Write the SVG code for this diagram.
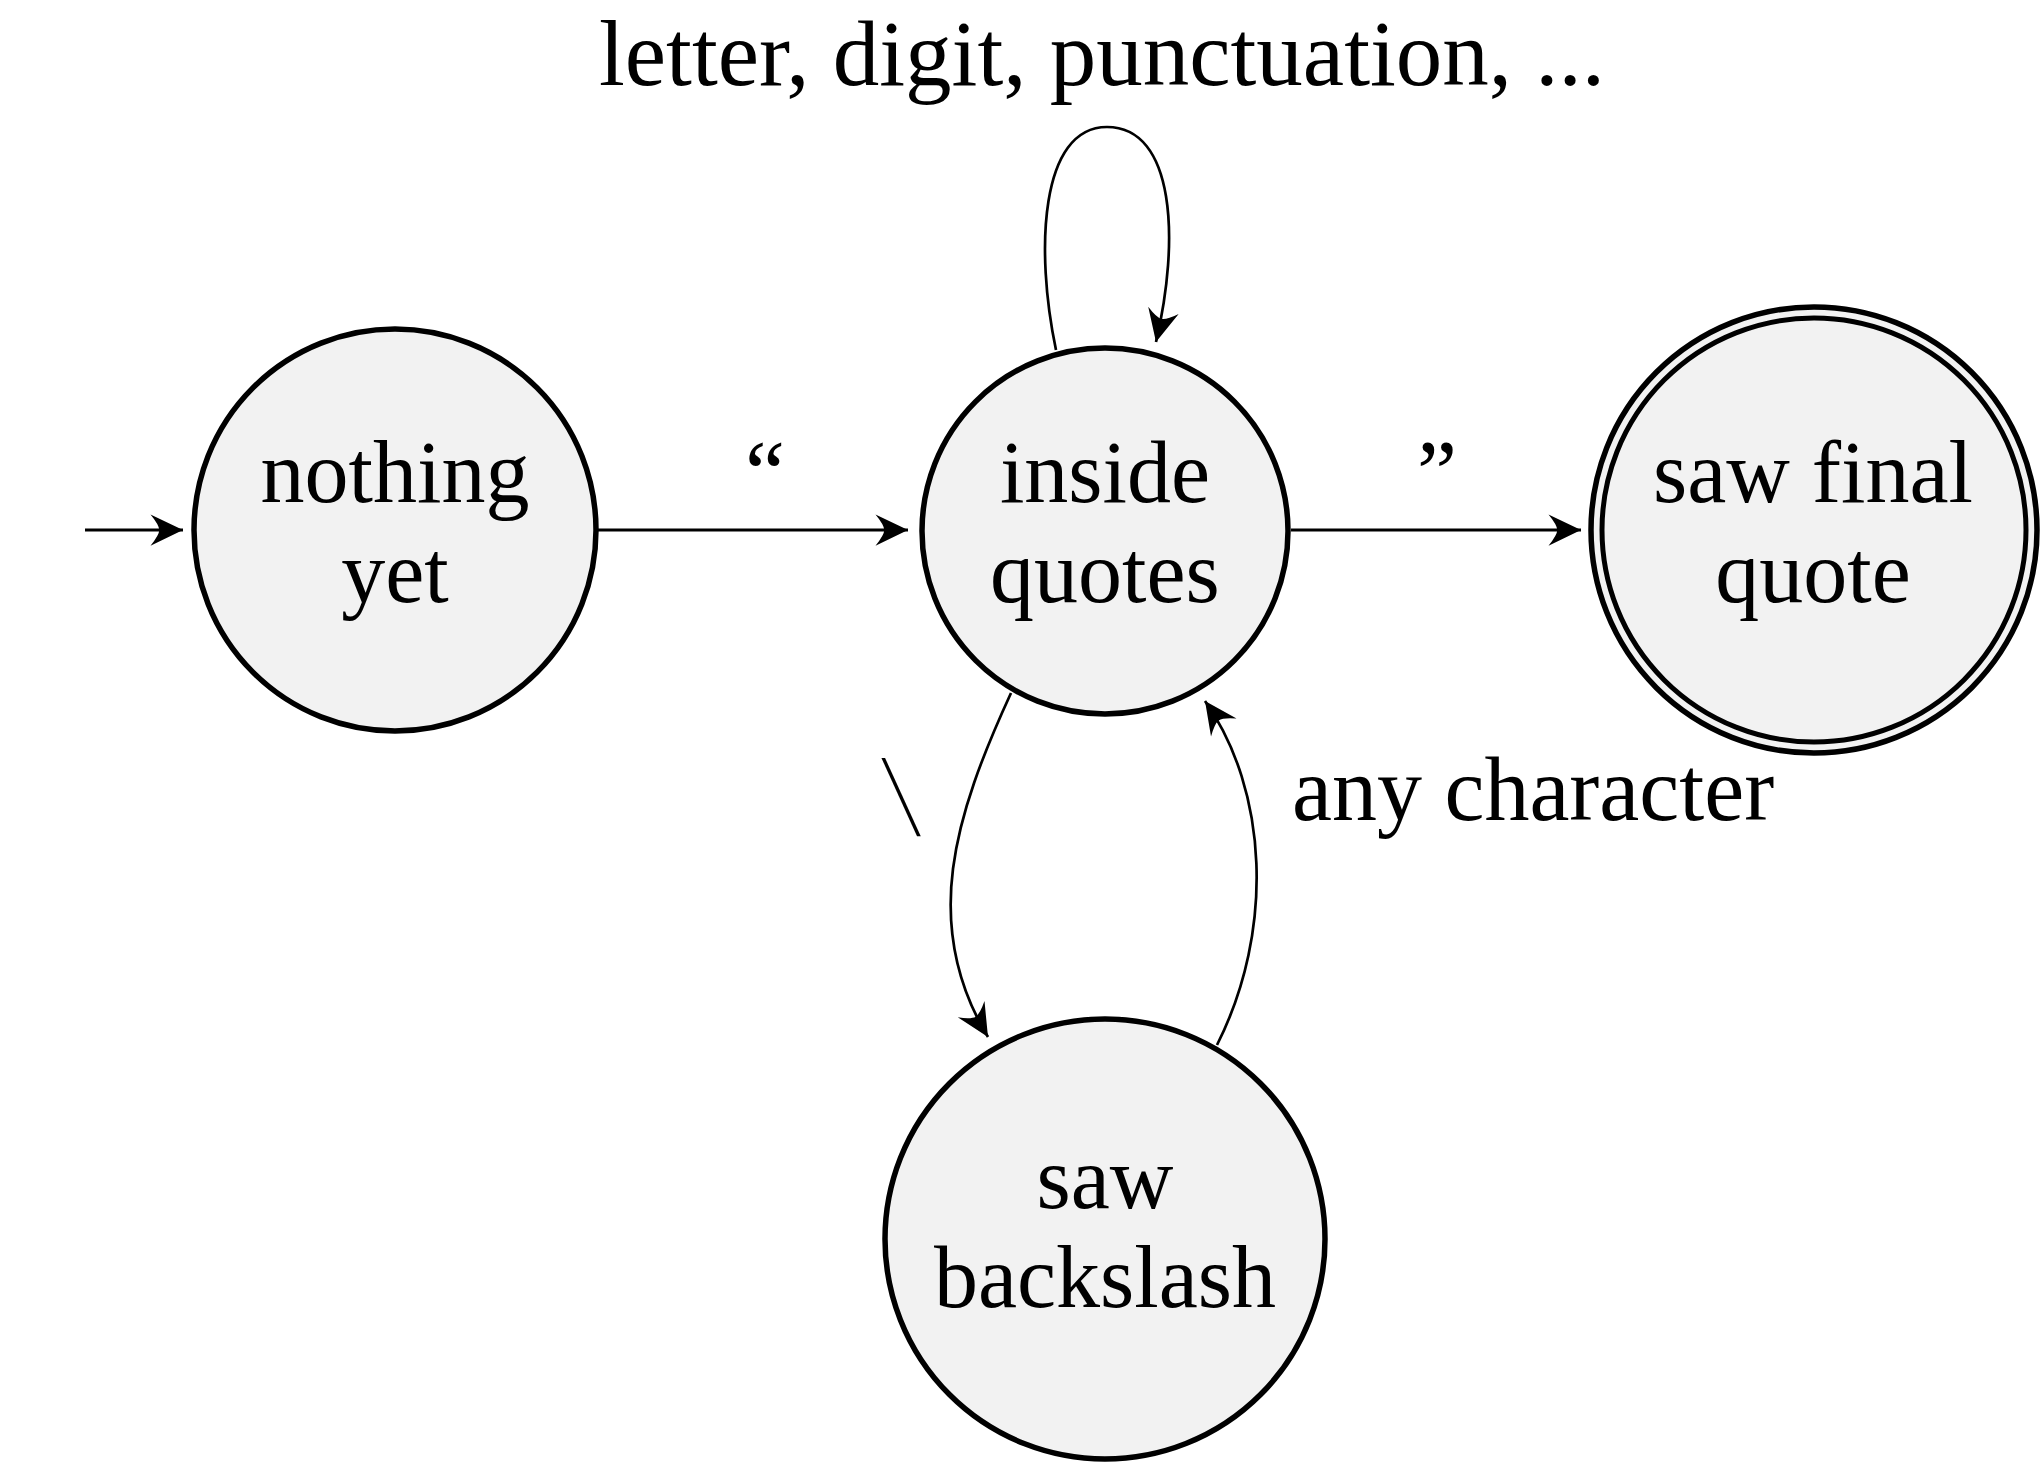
<svg xmlns="http://www.w3.org/2000/svg" width="2042" height="1463" viewBox="0 0 2042 1463">
<style>
.node{fill:#f2f2f2;stroke:#000;stroke-width:5.5}
.ring{fill:none;stroke:#000;stroke-width:5}
.edge{fill:none;stroke:#000;stroke-width:3}
.curve{fill:none;stroke:#000;stroke-width:2.7}
text{font-family:"Liberation Serif","Times New Roman",serif;fill:#000}
.nl{font-size:88px;text-anchor:middle}
.el{font-size:90px}
</style>
<defs>
<marker id="arr" markerUnits="userSpaceOnUse" markerWidth="40" markerHeight="40" viewBox="-30 -15 32 30" refX="0" refY="0" orient="auto">
<path d="M0,0 L-26,-12.5 Q-19,-4 -19,0 Q-19,4 -26,12.5 Z" fill="#000"/>
</marker>
</defs>
<rect width="2042" height="1463" fill="#fff"/>
<g id="connectors">
<path class="edge" d="M85,530 L183,530" marker-end="url(#arr)"/>
<path class="edge" d="M598,530 L908,530" marker-end="url(#arr)"/>
<path class="edge" d="M1291,530 L1581,530" marker-end="url(#arr)"/>
<path class="curve" d="M1056,350 C1035,250 1040,127 1107,127 C1175,127 1180,240 1156,342" marker-end="url(#arr)"/>
<path class="curve" d="M1011,693 C955,815 920,925 988,1037" marker-end="url(#arr)"/>
<path class="curve" d="M1217,1045 C1275,930 1268,790 1205,701" marker-end="url(#arr)"/>
<text class="el" x="765" y="503" text-anchor="middle">“</text>
<text class="el" x="1437" y="503" text-anchor="middle">”</text>
<text x="1102" y="85" font-size="93" text-anchor="middle">letter, digit, punctuation, ...</text>
<text class="el" x="1292" y="820">any character</text>
<text transform="translate(910,835) skewX(13) scale(0.85,1.3)" font-size="90" text-anchor="middle">\</text>
</g>
<g id="nothing-yet">
<circle class="node" cx="395" cy="530" r="201"/>
<text class="nl" x="395" y="502">nothing</text>
<text class="nl" x="395" y="602">yet</text>
</g>
<g id="inside-quotes">
<circle class="node" cx="1105" cy="531" r="183"/>
<text class="nl" x="1105" y="502">inside</text>
<text class="nl" x="1105" y="602">quotes</text>
</g>
<g id="saw-final-quote">
<circle class="node" cx="1814" cy="530" r="223"/>
<circle class="ring" cx="1814" cy="530" r="212"/>
<text class="nl" x="1813" y="502">saw final</text>
<text class="nl" x="1813" y="602">quote</text>
</g>
<g id="saw-backslash">
<circle class="node" cx="1105" cy="1239" r="220"/>
<text class="nl" x="1105" y="1208">saw</text>
<text class="nl" x="1105" y="1307">backslash</text>
</g>
</svg>
